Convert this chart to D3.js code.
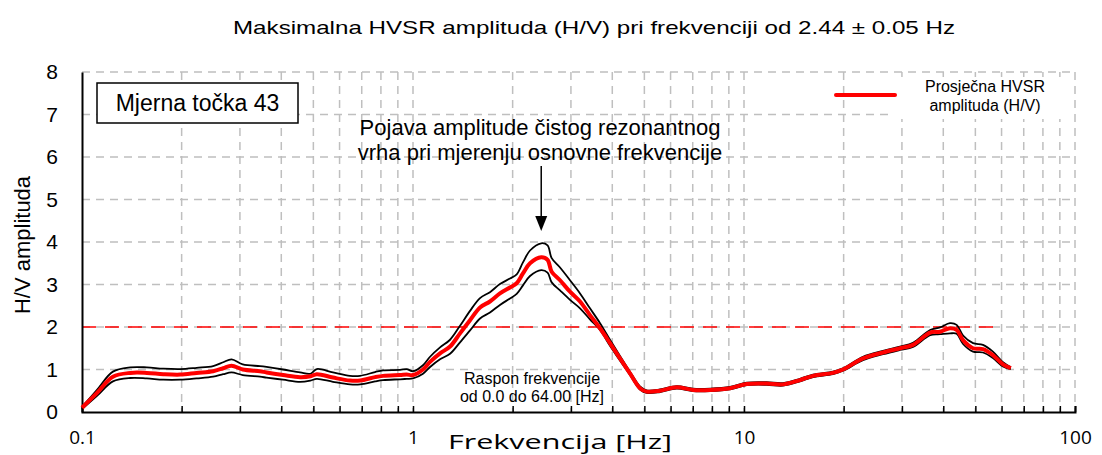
<!DOCTYPE html>
<html><head><meta charset="utf-8">
<script src="https://cdn.jsdelivr.net/npm/d3@7"></script>
<style>
body{margin:0;background:#fff;}
svg{display:block;}
text{font-family:"Liberation Sans",Arial,sans-serif;fill:#000;}
</style></head>
<body><svg id="c" width="1102" height="455"></svg>
<script>
const freq = [0.100,0.111,0.124,0.140,0.157,0.176,0.198,0.222,0.249,0.267,0.283,0.306,0.345,0.361,0.405,0.456,0.490,0.512,0.573,0.645,0.692,0.768,0.812,0.914,0.957,1.000,1.072,1.126,1.207,1.294,1.387,1.487,1.594,1.708,1.831,1.963,2.057,2.149,2.257,2.44,2.55,2.624,2.781,2.981,3.196,3.425,3.673,3.937,4.22,4.524,4.85,5.08,5.575,6.26,7.01,7.9,9.07,10.19,11.71,13.12,14.76,16.16,18.57,19.91,22.88,26.3,29.6,32.4,36.5,39.1,41.9,43.9,45.9,49.2,52.7,56.5,60.6,64.0];
const meanHV = [0.10,0.45,0.83,0.92,0.92,0.89,0.88,0.92,0.96,1.03,1.09,1.00,0.96,0.93,0.87,0.82,0.84,0.89,0.81,0.74,0.74,0.82,0.85,0.87,0.88,0.87,1.00,1.18,1.38,1.54,1.85,2.16,2.46,2.60,2.79,2.93,3.03,3.26,3.50,3.64,3.58,3.30,3.10,2.83,2.60,2.28,1.97,1.62,1.26,0.91,0.56,0.48,0.50,0.58,0.52,0.52,0.56,0.66,0.67,0.65,0.75,0.85,0.92,1.00,1.26,1.40,1.50,1.58,1.87,1.89,1.97,1.93,1.69,1.50,1.48,1.34,1.12,1.03];
const upperHV = [0.12,0.52,0.95,1.05,1.05,1.02,1.01,1.04,1.08,1.17,1.24,1.12,1.08,1.06,1.00,0.93,0.90,1.01,0.93,0.85,0.85,0.94,0.98,0.99,1.01,0.96,1.10,1.30,1.52,1.70,2.03,2.38,2.68,2.82,3.01,3.14,3.24,3.52,3.80,3.97,3.92,3.62,3.40,3.10,2.79,2.44,2.09,1.70,1.32,0.95,0.60,0.51,0.53,0.61,0.55,0.55,0.59,0.69,0.70,0.68,0.78,0.88,0.95,1.03,1.30,1.44,1.54,1.63,1.93,1.99,2.09,2.05,1.80,1.62,1.58,1.42,1.17,1.05];
const lowerHV = [0.07,0.38,0.72,0.80,0.79,0.76,0.76,0.79,0.83,0.89,0.93,0.87,0.83,0.81,0.76,0.71,0.74,0.78,0.71,0.65,0.65,0.72,0.75,0.77,0.78,0.79,0.90,1.06,1.24,1.37,1.64,1.92,2.20,2.34,2.52,2.67,2.78,2.98,3.20,3.34,3.28,3.05,2.86,2.64,2.44,2.18,1.93,1.56,1.21,0.87,0.53,0.45,0.47,0.55,0.49,0.49,0.53,0.63,0.64,0.62,0.72,0.82,0.89,0.97,1.22,1.36,1.46,1.53,1.81,1.83,1.85,1.84,1.60,1.42,1.40,1.27,1.07,1.01];
const yTicks = [0,1,2,3,4,5,6,7,8];
const xMajor = [0.1,1,10,100];
const xMajorLabels = ["0.1","1","10","100"];
const threshold = 2;
const titleText = "Maksimalna HVSR amplituda (H/V) pri frekvenciji od 2.44 ± 0.05 Hz";
const pointLabel = "Mjerna točka 43";
const annotLines = ["Pojava amplitude čistog rezonantnog","vrha pri mjerenju osnovne frekvencije"];
const rangeLines = ["Raspon frekvencije","od 0.0 do 64.00 [Hz]"];
const legendLines = ["Prosječna HVSR","amplituda (H/V)"];
const peakFreq = 2.44;

const svg = d3.select("#c");
const x = d3.scaleLog().domain([0.1,100]).range([82,1075]);
const y = d3.scaleLinear().domain([0,8]).range([412,72]);

const minor = [];
[0.1,1,10].forEach(d=>{for(let k=1;k<=9;k++) minor.push(+(d*k).toPrecision(3));});
minor.push(100);

const grid = svg.append("g").attr("stroke","#bfbfbf").attr("stroke-width",1.5).attr("stroke-dasharray","8,6").attr("fill","none");
minor.filter(d=>d>0.1).forEach(d=>{
  grid.append("line").attr("x1",x(d)).attr("x2",x(d)).attr("y1",y(8)).attr("y2",y(0));
});
yTicks.filter(d=>d>0).forEach(d=>{
  grid.append("line").attr("x1",x(0.1)).attr("x2",x(100)).attr("y1",y(d)).attr("y2",y(d));
});

// legend background
svg.append("rect").attr("x",889).attr("y",77).attr("width",182).attr("height",42).attr("fill","#fff");

// threshold
svg.append("line").attr("x1",x(0.1)).attr("x2",x(60)).attr("y1",y(threshold)).attr("y2",y(threshold))
  .attr("stroke","#ff0000").attr("stroke-width",1.5).attr("stroke-dasharray","14,9");

// axes
const xAx = svg.append("g").attr("transform",`translate(0,${y(0)})`)
  .call(d3.axisBottom(x).tickValues(minor).tickSize(-6).tickFormat(""));
xAx.select(".domain").attr("stroke","#000").attr("stroke-width",2);
xAx.selectAll(".tick line").attr("stroke","#000").attr("stroke-width",1.5);

const xLab = svg.append("g").attr("transform",`translate(0,${y(0)})`)
  .call(d3.axisBottom(x).tickValues(xMajor).tickSize(0).tickPadding(19).tickFormat((d,i)=>xMajorLabels[i]));
xLab.select(".domain").remove();
xLab.selectAll("text").style("font-family","'Open Sans',sans-serif").style("font-size","19px");

const yAx = svg.append("g").attr("transform",`translate(${x(0.1)},0)`)
  .call(d3.axisLeft(y).tickValues(yTicks).tickSize(0).tickPadding(24).tickFormat(d3.format("d")));
yAx.select(".domain").attr("stroke","#000").attr("stroke-width",2);
yAx.selectAll("text").style("font-family","'Liberation Sans',Arial,sans-serif").style("font-size","21px");

// curves
const line = d3.line().x((d,i)=>x(freq[i])).y(d=>y(d)).curve(d3.curveCatmullRom.alpha(0.5));
svg.append("path").attr("d",line(upperHV)).attr("fill","none").attr("stroke","#000").attr("stroke-width",1.8);
svg.append("path").attr("d",line(lowerHV)).attr("fill","none").attr("stroke","#000").attr("stroke-width",1.8);
svg.append("path").attr("d",line(meanHV)).attr("fill","none").attr("stroke","#ff0000").attr("stroke-width",4);

// title
svg.append("text").attr("x",594).attr("y",34).attr("text-anchor","middle").style("font-size","19px")
  .attr("textLength",722).attr("lengthAdjust","spacingAndGlyphs").text(titleText);

// axis titles
svg.append("text").attr("transform","translate(30,245) rotate(-90)").attr("text-anchor","middle")
  .style("font-size","22px").text("H/V amplituda");
svg.append("text").attr("x",560).attr("y",449).attr("text-anchor","middle")
  .style("font-family","'Open Sans',sans-serif").style("font-size","20px")
  .attr("textLength",224).attr("lengthAdjust","spacingAndGlyphs").text("Frekvencija [Hz]");

// point label box
svg.append("rect").attr("x",97).attr("y",83).attr("width",201).attr("height",40).attr("fill","#fff").attr("stroke","#000").attr("stroke-width",1.5);
svg.append("text").attr("x",197.5).attr("y",111).attr("text-anchor","middle").style("font-size","23px").text(pointLabel);

// annotation
annotLines.forEach((t,i)=>svg.append("text").attr("x",540).attr("y",135+i*25).attr("text-anchor","middle").style("font-size","22px").text(t));
const ax = x(peakFreq);
svg.append("line").attr("x1",ax).attr("x2",ax).attr("y1",166).attr("y2",218).attr("stroke","#000").attr("stroke-width",1.5);
svg.append("path").attr("d",`M${ax-6},216 L${ax+6},216 L${ax},231 Z`).attr("fill","#000");

// range text
rangeLines.forEach((t,i)=>svg.append("text").attr("x",532).attr("y",384+i*18).attr("text-anchor","middle").style("font-size","16px").text(t));

// legend
svg.append("line").attr("x1",836).attr("x2",895).attr("y1",95).attr("y2",95).attr("stroke","#ff0000").attr("stroke-width",4).attr("stroke-linecap","round");
legendLines.forEach((t,i)=>svg.append("text").attr("x",985).attr("y",92+i*19).attr("text-anchor","middle").style("font-size","16px").text(t));
</script></body></html>
